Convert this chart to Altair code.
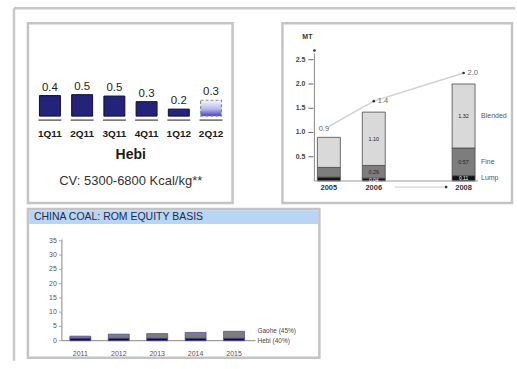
import altair as alt
import pandas as pd

FONT = "Liberation Sans"

# ---------------- Panel 1: Hebi quarterly output ----------------
quarters = ["1Q11", "2Q11", "3Q11", "4Q11", "1Q12", "2Q12"]
hebi_q_values = [0.44, 0.46, 0.43, 0.31, 0.15, 0.34]
hebi_q_labels = ["0.4", "0.5", "0.5", "0.3", "0.2", "0.3"]
hebi_q_forecast = [False, False, False, False, False, True]
panel1_title = "Hebi"
panel1_subtitle = "CV: 5300-6800 Kcal/kg**"

# ---------------- Panel 2: coal product mix (MT) ----------------
years_b = ["2005", "2006", "2008"]
year_slots_b = ["2005", "2006", "2007", "2008"]
types_b = ["Lump", "Fine", "Blended"]
lump_mt = [0.08, 0.06, 0.11]
fine_mt = [0.20, 0.26, 0.57]
blended_mt = [0.62, 1.10, 1.32]
lump_lbl = ["", "0.04", "0.11"]
fine_lbl = ["", "0.26", "0.57"]
blended_lbl = ["", "1.10", "1.32"]
total_lbl = ["0.9", "1.4", "2.0"]
y_ticks_b = [0.5, 1.0, 1.5, 2.0, 2.5]
unit_b = "MT"

# ---------------- Panel 3: China Coal ROM equity basis ----------------
years_c = ["2011", "2012", "2013", "2014", "2015"]
year_slots_c = [" "] + years_c
series_c = ["Hebi (40%)", "Gaohe (45%)"]
hebi_rom = [0.9, 0.9, 0.9, 0.9, 0.9]
gaohe_rom = [0.7, 1.4, 1.6, 2.0, 2.4]
y_ticks_c = [0, 5, 10, 15, 20, 25, 30, 35]
panel3_title = "CHINA COAL: ROM EQUITY BASIS"

FRAME = "#c4c4c4"
one = alt.Data(values=[{"k": 0}])


def ydat(v):
    return alt.YDatum(v, axis=None)


def frame(w, h):
    return alt.Chart(one).mark_rect(fill="transparent", stroke=FRAME, strokeWidth=2.5).encode(
        x=alt.value(0), x2=alt.value(w), y=alt.value(0), y2=alt.value(h))


# ======== Panel 1 ========
F1W, F1H = 205, 180
df1 = pd.DataFrame({"quarter": quarters, "value": hebi_q_values,
                    "label": hebi_q_labels, "forecast": hebi_q_forecast})
x1 = alt.X("quarter:N",
           scale=alt.Scale(domain=quarters, range=[0, F1W], paddingInner=0.35, paddingOuter=0.35,
                           align=0.51),
           axis=alt.Axis(orient="bottom", offset=-75, domain=False, ticks=False, labelPadding=0,
                         labelAngle=0, labelFontSize=10, labelFontWeight="bold", labelColor="#1a1a1a",
                         title=panel1_title, titleFontSize=14, titleFontWeight="bold",
                         titleColor="#1a1a1a", titleX=102.5, titleY=26, titleBaseline="middle"))
y1 = alt.Y("value:Q", scale=alt.Scale(domain=[-1.863, 1.991], nice=False, zero=False), axis=None)
base1 = alt.Chart(df1).encode(x=x1, y=y1)

bars1 = base1.transform_filter("!datum.forecast").mark_bar(
    color="#23237a", stroke="#0c0c3c", strokeWidth=1)
grad = alt.LinearGradient(
    gradient="linear",
    stops=[alt.GradientStop(color="#f6f6fd", offset=0),
           alt.GradientStop(color="#b9b9ec", offset=0.55),
           alt.GradientStop(color="#4444bf", offset=1)],
    x1=0, x2=0, y1=0, y2=1)
fc1 = base1.transform_filter("datum.forecast").mark_bar(
    fill=grad, stroke="#8c8c8c", strokeDash=[3, 2], strokeWidth=1.2)
lab1 = base1.mark_text(dy=-3, baseline="bottom", fontSize=11.5, color="#222").encode(text="label:N")
under1 = alt.Chart(df1).mark_tick(size=23, thickness=1.6, color="#333").encode(
    x=x1, y=ydat(-0.086))
cv1 = alt.Chart(one).mark_text(fontSize=13, color="#333", baseline="middle").encode(
    x=alt.value(103), y=alt.value(158), text=alt.value(panel1_subtitle))
outer_v = alt.Chart(one).mark_rule(color="#c8c8c8", strokeWidth=2.5).encode(
    x=alt.value(-14), y=alt.value(-15), y2=alt.value(338))
outer_h = alt.Chart(one).mark_rule(color="#c8c8c8", strokeWidth=2.5).encode(
    y=alt.value(-15), x=alt.value(-14), x2=alt.value(488))
p1 = alt.layer(outer_v, outer_h, frame(F1W, F1H), bars1, fc1, under1, lab1, cv1).properties(
    width=255, height=F1H)

# ======== Panel 2 ========
W2, H2 = 230, 180
rows = []
for i, yr in enumerate(years_b):
    cum = 0.0
    for k, (t, vals, lbls) in enumerate(zip(types_b, [lump_mt, fine_mt, blended_mt],
                                            [lump_lbl, fine_lbl, blended_lbl])):
        v = vals[i]
        rows.append({"year": yr, "type": t, "order": k, "value": v,
                     "mid": cum + v / 2, "label": lbls[i]})
        cum += v
df2 = pd.DataFrame(rows)
tot2 = pd.DataFrame({"year": years_b,
                     "total": [a + b + c for a, b, c in zip(lump_mt, fine_mt, blended_mt)],
                     "label": total_lbl})
ticks2 = pd.DataFrame({"t": y_ticks_b})

x2 = alt.X("year:N",
           scale=alt.Scale(domain=year_slots_b, paddingInner=0.489, paddingOuter=0.8, align=0.486),
           axis=alt.Axis(values=years_b, orient="bottom", offset=-19, domain=False, ticks=False,
                         labelPadding=0, labelAngle=0, labelFontSize=7.5, labelFontWeight="bold",
                         labelColor="#333", title=None))
ysc2 = alt.Scale(domain=[-0.4527, 3.251], nice=False, zero=False)

bars2 = alt.Chart(df2).mark_bar(stroke="#4a4a4a", strokeWidth=0.8).encode(
    x=x2,
    y=alt.Y("value:Q", stack="zero", scale=ysc2, axis=None),
    color=alt.Color("type:N", scale=alt.Scale(domain=types_b,
                                              range=["#111111", "#7d7d7d", "#d9d9d9"]), legend=None),
    order=alt.Order("order:Q"))
ymid2 = alt.Y("mid:Q", axis=None)
seg_dark = alt.Chart(df2).transform_filter("datum.label != '' && datum.type != 'Lump'").mark_text(
    fontSize=5.5, color="#222", baseline="middle").encode(x=x2, y=ymid2, text="label:N")
seg_light = alt.Chart(df2).transform_filter("datum.label != '' && datum.type == 'Lump'").mark_text(
    fontSize=5, color="#ffffff", baseline="middle").encode(x=x2, y=ymid2, text="label:N")
side2 = alt.Chart(df2).transform_filter("datum.year == '2008'").mark_text(
    fontSize=7, color="#555555", align="left", baseline="middle", dx=17.5).encode(
    x=x2, y=ymid2, text="type:N")
ytot2 = alt.Y("total:Q", axis=None)
trend2 = alt.Chart(tot2).mark_line(color="#d0d0d0", strokeWidth=1.5, yOffset=-11).encode(
    x=x2, y=ytot2)
dots2 = alt.Chart(tot2).transform_filter("datum.year != '2005'").mark_point(
    filled=True, size=7, color="#333", opacity=1, yOffset=-11).encode(x=x2, y=ytot2)
tl_first = alt.Chart(tot2).transform_filter("datum.year == '2005'").mark_text(
    fontSize=7.5, color="#666666", dx=-5, dy=-8, baseline="middle").encode(
    x=x2, y=ytot2, text="label:N")
tl_rest = alt.Chart(tot2).transform_filter("datum.year != '2005'").mark_text(
    fontSize=7.5, color="#666666", dx=4, dy=-11, align="left", baseline="middle").encode(
    x=x2, y=ytot2, text="label:N")
ylab2 = alt.Chart(ticks2).mark_text(fontSize=7, fontWeight="bold", color="#444", align="right",
                                    baseline="middle").encode(
    x=alt.value(23), y=alt.Y("t:Q", axis=None), text=alt.Text("t:Q", format=".1f"))
ytick2 = alt.Chart(ticks2).mark_rule(color="#666", strokeWidth=1).encode(
    x=alt.value(26), x2=alt.value(31), y=alt.Y("t:Q", axis=None))
unit2 = alt.Chart(one).mark_text(fontSize=7, fontWeight="bold", color="#333",
                                 baseline="middle").encode(
    x=alt.value(25), y=alt.value(14), text=alt.value(unit_b))
axis_line2 = alt.Chart(one).mark_rule(color="#888", strokeWidth=1).encode(
    x=alt.value(32), y=ydat(0), y2=alt.Y2Datum(2.63))
axis_dot2 = alt.Chart(one).mark_point(filled=True, size=7, color="#333", opacity=1).encode(
    x=alt.value(32), y=ydat(2.69))
base_line2 = alt.Chart(one).mark_rule(color="#999", strokeWidth=1).encode(
    y=ydat(0), x=alt.value(32), x2=alt.value(196))
arrow2 = alt.Chart(one).mark_rule(color="#bbb", strokeWidth=0.8).encode(
    y=ydat(-0.125), x=alt.value(113), x2=alt.value(164))
arrow_dot2 = alt.Chart(one).mark_point(filled=True, size=7, color="#333", opacity=1).encode(
    x=alt.value(164), y=ydat(-0.125))
p2 = alt.layer(frame(W2, H2), bars2, base_line2, axis_line2, axis_dot2, ytick2, ylab2, unit2,
               arrow2, arrow_dot2, trend2, dots2, seg_dark, seg_light, side2, tl_first,
               tl_rest).properties(width=W2, height=H2)

# ======== Panel 3 ========
F3W, F3H = 292, 149
rows3 = []
for i, yr in enumerate(years_c):
    rows3.append({"year": yr, "series": series_c[0], "order": 0, "value": hebi_rom[i]})
    rows3.append({"year": yr, "series": series_c[1], "order": 1, "value": gaohe_rom[i]})
df3 = pd.DataFrame(rows3)
last = len(years_c) - 1
lab3 = pd.DataFrame({"year": [years_c[last], years_c[last]],
                     "name": [series_c[1], series_c[0]],
                     "pos": [hebi_rom[last] + gaohe_rom[last], 0.0]})
ticks3 = pd.DataFrame({"t": y_ticks_c})

x3 = alt.X("year:N",
           scale=alt.Scale(domain=year_slots_c, paddingInner=0.4545, paddingOuter=0.539,
                           align=0.084),
           axis=alt.Axis(values=years_c, orient="bottom", offset=-8.5, domain=False, ticks=False,
                         labelPadding=0, labelAngle=0, labelFontSize=7, labelColor="#555",
                         title=None))
ysc3 = alt.Scale(domain=[-5.94, 46.15], nice=False, zero=False)

title_bg = alt.Chart(one).mark_rect(color="#b7d5f4").encode(
    x=alt.value(1.25), x2=alt.value(F3W - 1.25), y=alt.value(1.25), y2=alt.value(15))
title_txt = alt.Chart(one).mark_text(fontSize=10.5, color="#1c2b4a", align="left",
                                     baseline="middle").encode(
    x=alt.value(6), y=alt.value(8), text=alt.value(panel3_title))
bars3 = alt.Chart(df3).mark_bar(stroke="#4646a6", strokeWidth=0.7).encode(
    x=x3,
    y=alt.Y("value:Q", stack="zero", scale=ysc3, axis=None),
    color=alt.Color("series:N", scale=alt.Scale(domain=series_c, range=["#4040a8", "#9c9cf0"]),
                    legend=None),
    order=alt.Order("order:Q"))
ylab3 = alt.Chart(ticks3).mark_text(fontSize=7, color="#555", align="right",
                                    baseline="middle").encode(
    x=alt.value(29), y=alt.Y("t:Q", axis=None), text="t:Q")
ytick3 = alt.Chart(ticks3).mark_rule(color="#999", strokeWidth=0.8).encode(
    x=alt.value(31), x2=alt.value(34), y=alt.Y("t:Q", axis=None))
axis_line3 = alt.Chart(one).mark_rule(color="#888", strokeWidth=1).encode(
    x=alt.value(34), y=ydat(0), y2=alt.Y2Datum(35.5))
base_line3 = alt.Chart(one).mark_rule(color="#888", strokeWidth=1).encode(
    y=ydat(0), x=alt.value(34), x2=alt.value(228))
names3 = alt.Chart(lab3).mark_text(fontSize=6.5, color="#444", align="left", baseline="middle",
                                   dx=23.5).encode(x=x3, y=alt.Y("pos:Q", axis=None),
                                                   text="name:N")
p3 = alt.layer(frame(F3W, F3H), title_bg, title_txt, axis_line3, base_line3, ytick3, ylab3,
               bars3, names3).properties(width=255, height=F3H)

chart = alt.concat(p1, p2, p3, columns=2, spacing={"row": 6, "column": 0},
                   align="none", bounds="flush").properties(
    padding={"left": 12, "top": 6, "right": 0, "bottom": 0}, background="white"
).configure(font=FONT).configure_view(stroke=None)

chart.save("out.html", embed_options={"renderer": "svg", "actions": False})
